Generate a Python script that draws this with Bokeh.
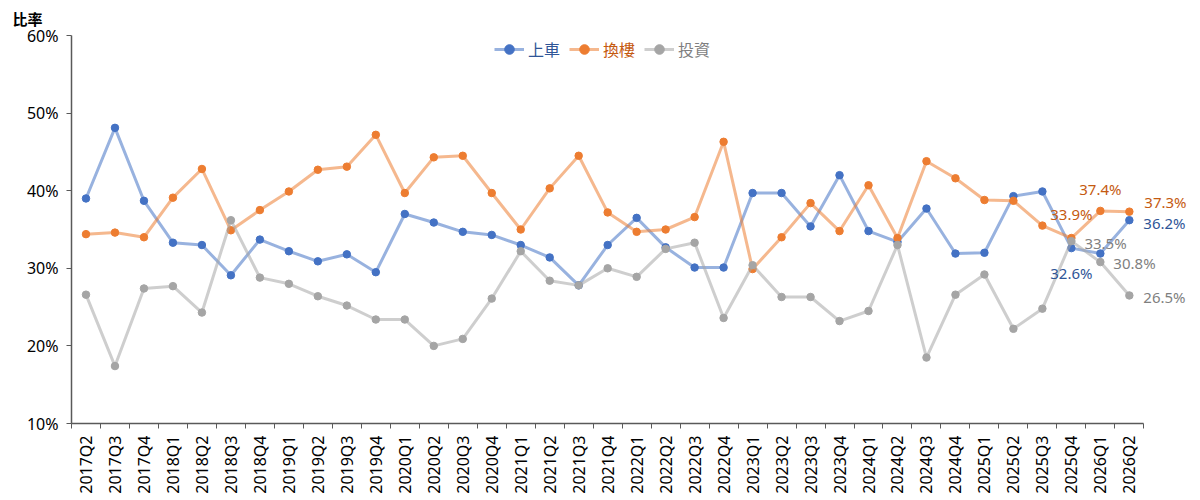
import numpy as np
from bokeh.plotting import figure
from bokeh.models import (Range1d, FixedTicker, Legend, LegendItem, Title,
                          ColumnDataSource, PrintfTickFormatter)
from bokeh.embed import file_html
from bokeh.resources import INLINE
from bokeh.core.properties import value

quarters = ["2017Q2", "2017Q3", "2017Q4",
            "2018Q1", "2018Q2", "2018Q3", "2018Q4",
            "2019Q1", "2019Q2", "2019Q3", "2019Q4",
            "2020Q1", "2020Q2", "2020Q3", "2020Q4",
            "2021Q1", "2021Q2", "2021Q3", "2021Q4",
            "2022Q1", "2022Q2", "2022Q3", "2022Q4",
            "2023Q1", "2023Q2", "2023Q3", "2023Q4",
            "2024Q1", "2024Q2", "2024Q3", "2024Q4",
            "2025Q1", "2025Q2", "2025Q3", "2025Q4",
            "2026Q1", "2026Q2"]

shangche = [39.0, 48.1, 38.7,
            33.3, 33.0, 29.1, 33.7,
            32.2, 30.9, 31.8, 29.5,
            37.0, 35.9, 34.7, 34.3,
            33.0, 31.4, 27.8, 33.0,
            36.5, 32.7, 30.1, 30.1,
            39.7, 39.7, 35.4, 42.0,
            34.8, 33.4, 37.7, 31.9,
            32.0, 39.3, 39.9, 32.6,
            31.9, 36.2]

huanlou = [34.4, 34.6, 34.0,
           39.1, 42.8, 34.9, 37.5,
           39.9, 42.7, 43.1, 47.2,
           39.7, 44.3, 44.5, 39.7,
           35.0, 40.3, 44.5, 37.2,
           34.7, 35.0, 36.6, 46.3,
           29.9, 34.0, 38.4, 34.8,
           40.7, 33.9, 43.8, 41.6,
           38.8, 38.7, 35.5, 33.9,
           37.4, 37.3]

touzi = [26.6, 17.4, 27.4,
         27.7, 24.3, 36.2, 28.8,
         28.0, 26.4, 25.2, 23.4,
         23.4, 20.0, 20.9, 26.1,
         32.2, 28.4, 27.8, 30.0,
         28.9, 32.5, 33.3, 23.6,
         30.4, 26.3, 26.3, 23.2,
         24.5, 33.0, 18.5, 26.6,
         29.2, 22.2, 24.8, 33.5,
         30.8, 26.5]

series_names = ["上車", "換樓", "投資"]
y_ticks = [10, 20, 30, 40, 50, 60]
y_title = "比率"

# which points carry a data label (indices into quarters)
labelled = {"上車": [34, 36], "換樓": [34, 35, 36], "投資": [34, 35, 36]}

# styles
marker_colors = {"上車": "#4472C4", "換樓": "#ED7D31", "投資": "#A5A5A5"}
text_colors = {"上車": "#2F5597", "換樓": "#C55A11", "投資": "#7F7F7F"}
label_style = {
    "上車": [(0, 25, "center"), (14, 3, "left")],
    "換樓": [(0, -24, "center"), (0, -22, "center"), (15, -10, "left")],
    "投資": [(13, 2, "left"), (13, 1, "left"), (14, 2, "left")],
}

NUM = "Noto Sans"
CJK = "Noto Sans CJK TC"

n = len(quarters)
p = figure(frame_width=1119, frame_height=388, output_backend="svg", toolbar_location=None,
           x_range=Range1d(-0.5, 38.11), y_range=Range1d(10, 60),
           min_border_left=71, min_border_right=2, min_border_top=35,
           min_border_bottom=69)
p.outline_line_color = None
p.xgrid.grid_line_color = None
p.ygrid.grid_line_color = None
p.background_fill_color = "white"
p.border_fill_color = "white"

xs = list(range(n))
data = {"上車": shangche, "換樓": huanlou, "投資": touzi}

renderers = {}
for name in series_names:
    src = ColumnDataSource(dict(x=xs, y=data[name]))
    lr = p.line("x", "y", source=src, line_color=marker_colors[name], line_alpha=0.55,
                line_width=3)
    sr = p.scatter("x", "y", source=src, size=7.5, fill_color=marker_colors[name],
                   line_color=marker_colors[name])
    renderers[name] = [lr, sr]

# data labels
for name in series_names:
    idx = labelled[name]
    st = label_style[name]
    src = ColumnDataSource(dict(
        x=[xs[i] for i in idx],
        y=[data[name][i] for i in idx],
        t=["%.1f%%" % data[name][i] for i in idx],
        dx=[s[0] for s in st],
        dy=[s[1] for s in st],
        al=[s[2] for s in st],
    ))
    p.text("x", "y", text="t", source=src, x_offset="dx", y_offset="dy",
           text_align="al", text_baseline="middle", text_color=text_colors[name],
           text_font=value(NUM), text_font_size="15px")

# legends: one per item so the label colours differ
leg_x = {"上車": 423, "換樓": 498, "投資": 573}
for name in series_names:
    lg = Legend(items=[LegendItem(label=name, renderers=renderers[name])],
                location=(leg_x[name], 362), orientation="horizontal",
                padding=0, margin=0, spacing=0, glyph_width=30, glyph_height=24,
                label_height=24, label_width=36, label_standoff=4,
                label_text_color=text_colors[name], label_text_font=CJK,
                label_text_font_size="16px",
                background_fill_alpha=0, border_line_color=None)
    p.add_layout(lg, "center")

# axes
xa = p.xaxis[0]
xa.bounds = (-0.5, n - 0.5)
xa.ticker = FixedTicker(ticks=xs, minor_ticks=[i - 0.5 for i in range(n + 1)])
xa.major_label_overrides = {i: q for i, q in enumerate(quarters)}
xa.major_label_orientation = np.pi / 2
xa.major_tick_line_color = None
xa.minor_tick_in = 0
xa.minor_tick_out = 5
xa.minor_tick_line_color = "#595959"
xa.axis_line_color = "#595959"
xa.axis_line_width = 1.5
xa.major_label_text_font = NUM
xa.major_label_text_font_size = "16px"
xa.major_label_text_color = "#000000"
xa.major_label_standoff = 6

ya = p.yaxis[0]
ya.ticker = FixedTicker(ticks=y_ticks, minor_ticks=[])
ya.formatter = PrintfTickFormatter(format="%d%%")
ya.major_tick_in = 0
ya.major_tick_out = 5
ya.major_tick_line_color = "#595959"
ya.axis_line_color = "#595959"
ya.axis_line_width = 1.5
ya.minor_tick_line_color = None
ya.major_label_text_font = NUM
ya.major_label_text_font_size = "16px"
ya.major_label_text_color = "#000000"
ya.major_label_standoff = 8

t = Title(text=y_title, align="left", offset=-59, standoff=10, vertical_align="top",
          text_font=CJK, text_font_size="15px", text_font_style="bold",
          text_color="#000000")
p.add_layout(t, "above")

open("out.html", "w").write(file_html(p, INLINE))
